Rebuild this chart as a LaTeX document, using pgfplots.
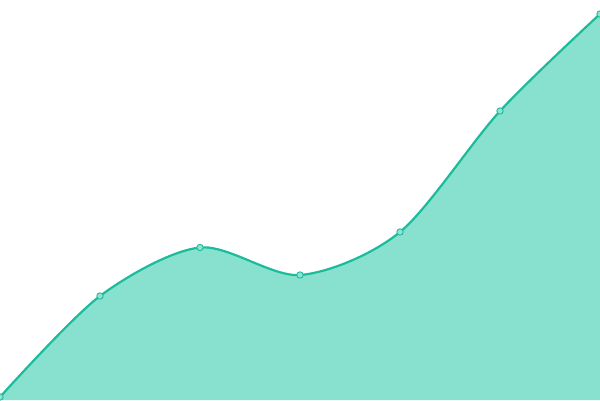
\documentclass[border=0pt]{standalone}
\usepackage{pgfplots}
\pgfplotsset{compat=1.18}
\definecolor{linec}{HTML}{1ABC9C}
\definecolor{fillc}{HTML}{88E0CF}
\definecolor{markf}{HTML}{8FE3D2}
\begin{document}
\begin{tikzpicture}
\begin{axis}[
    scale only axis,
    width=600bp, height=400bp,
    xmin=0, xmax=6, ymin=0, ymax=400,
    axis lines=none,
    ticks=none,
    clip marker paths=true,
]
\addplot[draw=none, fill=fillc, smooth, tension=0.5] coordinates {
(0,3)(1,104)(2,152.5)(3,125)(4,168)(5,289)(6,386)} \closedcycle;
\addplot[linec, line width=2.2bp, smooth, tension=0.5, mark=*,
    mark size=3.2bp, mark options={fill=markf, draw=linec, line width=0.9bp}] coordinates {
(0,3)(1,104)(2,152.5)(3,125)(4,168)(5,289)(6,386)};
\end{axis}
\pgfresetboundingbox
\path[use as bounding box] (current axis.south west) rectangle (current axis.north east);
\end{tikzpicture}
\end{document}
